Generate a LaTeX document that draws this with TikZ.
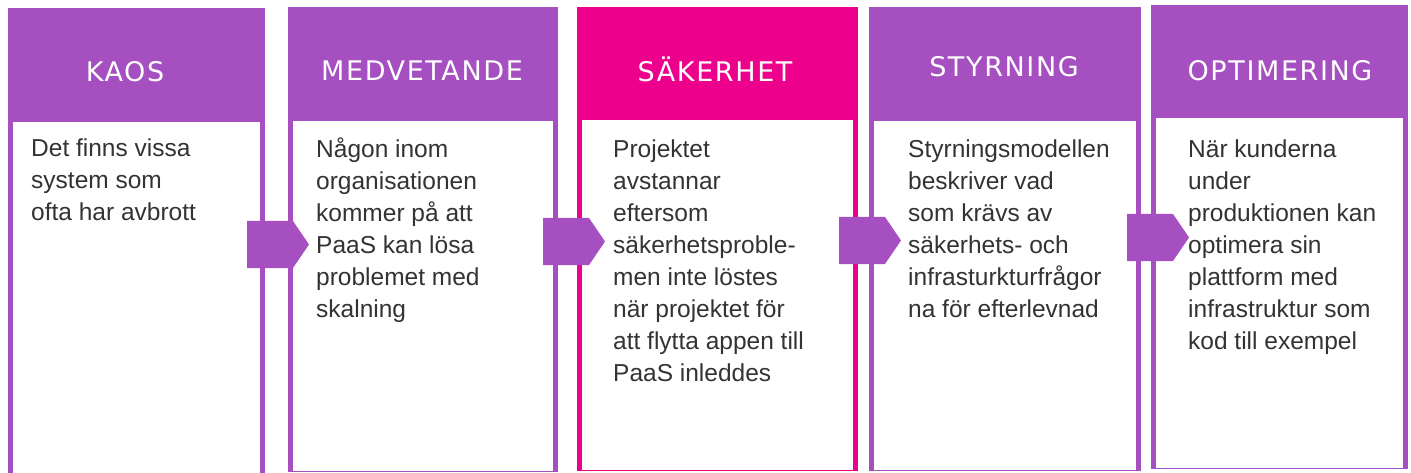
\documentclass[tikz,border=0pt]{standalone}
\usepackage{fontspec}
\setmainfont{Liberation Sans}
\newfontfamily\kopffont[LetterSpace=6]{DejaVu Sans}

\definecolor{lila}{HTML}{A54FC1}
\definecolor{rosa}{HTML}{EC008C}
\definecolor{textgrau}{HTML}{333333}

\begin{document}
\begin{tikzpicture}[x=1pt,y=-1pt,
  titel/.style={text=white,anchor=base,inner sep=0pt,font=\kopffont\fontsize{27}{27}\selectfont},
  inhalt/.style={text=textgrau,anchor=base west,inner sep=0pt,align=left,font=\fontsize{24.5}{32}\selectfont}]

\useasboundingbox (0,0) rectangle (1411,473);

% Spalten: Rahmen und weisse Felder
\def\spalte#1#2#3#4#5#6{
\fill[color=#5] (#1,#3) rectangle (#2,#4);
\fill[white] ({#1+5},#6) rectangle ({#2-5},{#4-1});
}

\spalte{8}{265}{8}{480}{lila}{122}
\spalte{288}{558}{7}{472}{lila}{121}
\spalte{577}{858}{7}{471}{rosa}{120}
\spalte{869}{1141}{7}{471}{lila}{121}
\spalte{1151}{1408}{5}{469}{lila}{118}

% Pfeile
\def\pil#1#2{
\fill[color=lila] (#1,#2) -- ++(46,0) -- ++(16,23.5) -- ++(-16,23.5) -- ++(-46,0) -- cycle;
}

\pil{247}{221}
\pil{543}{218}
\pil{839}{217}
\pil{1127}{214}

% Titel
\node[titel] (kaos)       at (125,82)    {KAOS};
\node[titel] (medvetande) at (422,81)    {MEDVETANDE};
\node[titel] (saekerhet)  at (715,82)    {SÄKERHET};
\node[titel] (styrning)   at (1004,77)   {STYRNING};
\node[titel] (optimering) at (1280,81)   {OPTIMERING};

% Texte (Anker: Grundlinie der letzten Zeile)
\node[inhalt] (kaostext) at (31,221) {Det finns vissa\\system som\\ofta har avbrott};
\node[inhalt] (medvetandetext) at (316,317) {Någon inom\\organisationen\\kommer på att\\PaaS kan lösa\\problemet med\\skalning};
\node[inhalt] (saekerhettext) at (613,381) {Projektet\\avstannar\\eftersom\\säkerhetsproble-\\men inte löstes\\när projektet för\\att flytta appen till\\PaaS inleddes};
\node[inhalt] (styrningtext) at (908,317) {Styrningsmodellen\\beskriver vad\\som krävs av\\säkerhets- och\\infrasturkturfrågor\\na för efterlevnad};
\node[inhalt] (optimeringtext) at (1188,349) {När kunderna\\under\\produktionen kan\\optimera sin\\plattform med\\infrastruktur som\\kod till exempel};

\end{tikzpicture}
\end{document}
